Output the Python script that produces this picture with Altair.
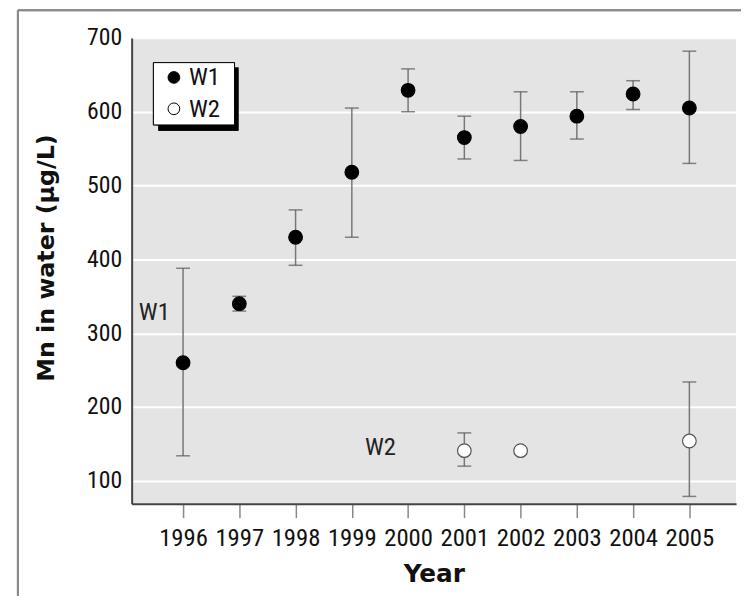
import altair as alt
import pandas as pd
import numpy as np

# ---- data ----
years = [1996, 1997, 1998, 1999, 2000, 2001, 2002, 2003, 2004, 2005]
w1_mean = [260, 340, 430, 518, 629, 565, 580, 594, 624, 605]
w1_upper = [388, 350, 467, 605, 658, 594, 627, 627, 642, 682]
w1_lower = [134, 330, 392, 430, 600, 536, 534, 563, 603, 530]

w2_years = [2001, 2002, 2005]
w2_mean = [141, 141, 154]
w2_upper = [165, np.nan, 234]
w2_lower = [120, np.nan, 79]

y_ticks = [100, 200, 300, 400, 500, 600, 700]
x_ticks = years

series_names = ["W1", "W2"]
ann_labels = ["W1", "W2"]
ann_x = [1995.49, 1999.51]
ann_y = [328, 146]

FONT = "Liberation Sans Narrow, Roboto Condensed, Liberation Sans, sans-serif"
TFONT = "DejaVu Sans, Liberation Sans, sans-serif"

pts = pd.DataFrame({
    "year": years + w2_years,
    "mean": w1_mean + w2_mean,
    "upper": w1_upper + w2_upper,
    "lower": w1_lower + w2_lower,
    "series": ["W1"] * len(years) + ["W2"] * len(w2_years),
})
err = pts.dropna()
ann = pd.DataFrame({"label": ann_labels, "x": ann_x, "y": ann_y})
leg = pd.DataFrame({"series": series_names})

xs = alt.Scale(domain=[1995.086, 2005.83], nice=False, zero=False)
ys = alt.Scale(domain=[69, 700], nice=False, zero=False)

x_enc = alt.X("year:Q", scale=xs,
              axis=alt.Axis(values=x_ticks, format="d", title="Year", grid=False,
                            domainColor="#444", domainWidth=2, tickColor="#888",
                            tickWidth=1.5, tickSize=14, labelPadding=8,
                            labelFontSize=25, labelFont=FONT, labelColor="#111",
                            titleFont=TFONT, titleFontSize=25, titleFontWeight="bold",
                            titlePadding=12, titleColor="#111"))
y_axis = alt.Axis(values=y_ticks, title="Mn in water (μg/L)", grid=True,
                  gridColor="white", gridWidth=2, ticks=False,
                  domainColor="#444", domainWidth=2, labelPadding=10,
                  labelFontSize=24, labelFont=FONT, labelColor="#111",
                  titleFont=TFONT, titleFontSize=24, titleFontWeight="bold",
                  titlePadding=28, titleColor="#111", titleY=222)

base = alt.Chart(err)

rules = base.mark_rule(color="#777", strokeWidth=1.5).encode(
    x=x_enc,
    y=alt.Y("lower:Q", scale=ys, axis=y_axis),
    y2="upper:Q",
)
cap_top = base.mark_tick(color="#555", size=14, thickness=1.5, orient="horizontal").encode(
    x=alt.X("year:Q", scale=xs), y=alt.Y("upper:Q", scale=ys)
)
cap_bot = base.mark_tick(color="#555", size=14, thickness=1.5, orient="horizontal").encode(
    x=alt.X("year:Q", scale=xs), y=alt.Y("lower:Q", scale=ys)
)

fill_scale = alt.Scale(domain=series_names, range=["black", "white"])
stroke_scale = alt.Scale(domain=series_names, range=["black", "#555"])

points = alt.Chart(pts).mark_point(filled=False, size=190, strokeWidth=1.2, opacity=1).encode(
    x=alt.X("year:Q", scale=xs),
    y=alt.Y("mean:Q", scale=ys),
    fill=alt.Fill("series:N", scale=fill_scale, legend=None),
    stroke=alt.Stroke("series:N", scale=stroke_scale, legend=None),
)

texts = alt.Chart(ann).mark_text(font=FONT, fontSize=25, color="#222").encode(
    x=alt.X("x:Q", scale=xs), y=alt.Y("y:Q", scale=ys), text="label:N"
)

# ---- boxed legend with drop shadow ----
leg_base = alt.Chart(leg)
shadow = leg_base.mark_rect(color="black").encode(
    x=alt.value(27), x2=alt.value(108), y=alt.value(30), y2=alt.value(94)
)
box = leg_base.mark_rect(fill="white", stroke="black", strokeWidth=1).encode(
    x=alt.value(22), x2=alt.value(104), y=alt.value(25), y2=alt.value(88)
)
leg_layers = []
for i, name in enumerate(series_names):
    yy = 40 + i * 31.7
    sub = leg_base.transform_filter(alt.datum.series == name)
    leg_layers.append(sub.mark_point(filled=True, size=140, strokeWidth=1, opacity=1,
                                     fill=["black", "white"][i], stroke="black").encode(
        x=alt.value(42.7), y=alt.value(yy)))
    leg_layers.append(sub.mark_text(font=FONT, fontSize=25, color="#111", align="left",
                                    baseline="middle").encode(
        x=alt.value(58), y=alt.value(yy), text="series:N"))

frame_top = leg_base.mark_rule(color="#8a8a8a", strokeWidth=2).encode(
    x=alt.value(-115), x2=alt.value(620), y=alt.value(-28)
)
frame_left = leg_base.mark_rule(color="#8a8a8a", strokeWidth=2).encode(
    x=alt.value(-115), y=alt.value(-28), y2=alt.value(570)
)

chart = alt.layer(frame_top, frame_left, rules, cap_top, cap_bot, points, texts,
                  shadow, box, *leg_layers).properties(
    width=611, height=471,
    autosize=alt.AutoSizeParams(type="none"),
    padding={"left": 125, "top": 27, "right": 5, "bottom": 90},
    background="white",
).configure_view(fill="#e4e4e4", strokeWidth=0)

chart.save("out.html", embed_options={"renderer": "svg", "actions": False})
